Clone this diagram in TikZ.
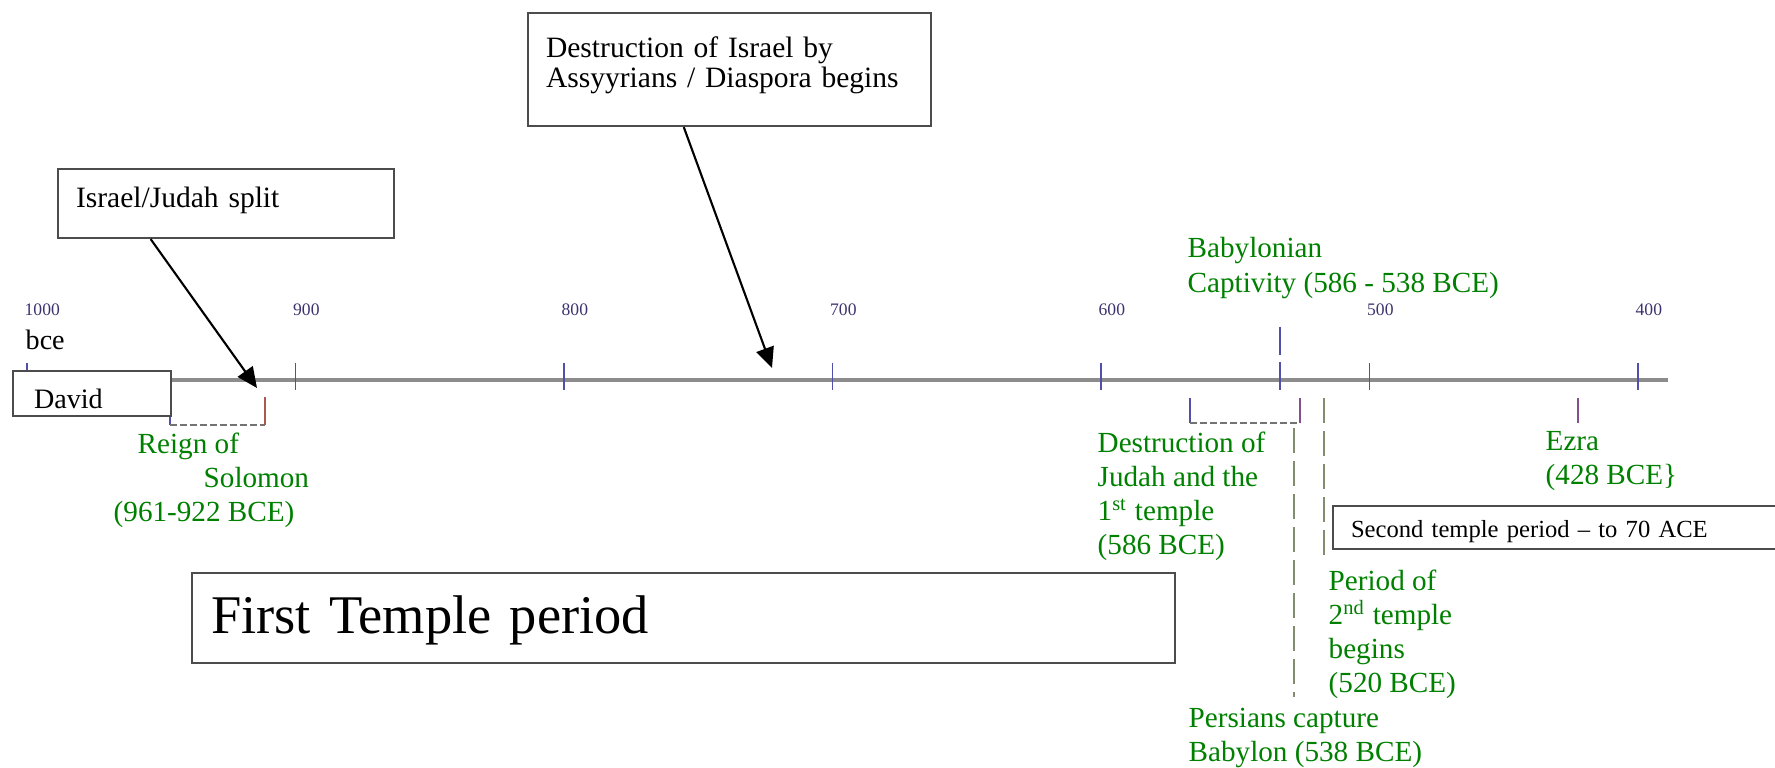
\documentclass[tikz,border=0pt]{standalone}
\usepackage{fontspec}
\setmainfont{Liberation Serif}
\usepackage{xcolor}
\usepackage{tikz}
\usetikzlibrary{arrows.meta,calc}
\definecolor{cNote}{RGB}{0,128,0}
\definecolor{cTick}{RGB}{80,80,170}
\definecolor{cYear}{RGB}{60,50,110}
\definecolor{cAxis}{RGB}{140,140,140}
\definecolor{cDash}{RGB}{130,140,110}
\definecolor{cEnd}{RGB}{170,90,80}
\definecolor{cPurp}{RGB}{130,80,140}
\newcommand{\notesize}{\fontsize{8.3}{9.7}\selectfont}
\newcommand{\boxsize}{\fontsize{8.4}{8.8}\selectfont}
\newcommand{\yrsize}{\fontsize{5}{6}\selectfont}
\tikzset{
  tbox/.style={draw=black!70, line width=0.6pt, fill=white, inner ysep=0pt,
               inner xsep=1.8mm, align=left, anchor=north west, font=\boxsize},
  note/.style={text=cNote, anchor=north west, inner sep=0pt, align=left,
               font=\notesize},
  yrlab/.style={text=cYear, anchor=west, inner sep=0pt, font=\yrsize},
  tickmark/.style={draw=cTick, line width=0.55pt},
  axis/.style={draw=cAxis, line width=0.95pt},
  arr/.style={-{Triangle[length=5.8pt,width=5.2pt]}, line width=0.6pt},
  dashv/.style={draw=cDash, line width=0.5pt, dash pattern=on 2.5mm off 0.8mm},
  bracketbase/.style={draw=black!55, line width=0.45pt, dash pattern=on 0.7mm off 0.3mm},
}

\begin{document}
\begin{tikzpicture}[x=0.1mm,y=-0.1mm]
  \clip (0,0) rectangle (1775,768);

  % time line
  \coordinate (t0) at (27,380);
  \coordinate (t1) at (1668,380);
  \draw[axis] (t0) -- (t1);
  \foreach \yr in {1000,900,800,700,600,500,400}{
    \pgfmathsetmacro{\xx}{27+(1000-\yr)*2.685}
    \draw[tickmark] (\xx,363) -- (\xx,390);
    \node[yrlab] (lab\yr) at (\xx-3,310) {\yr};
  }
  \node[inner sep=0pt, anchor=west, font=\fontsize{8}{9}\selectfont] (bce) at (25,340) {bce};

  % marks on the line
  \draw[tickmark, dash pattern=on 2.8mm off 0.7mm] (1280,327) -- (1280,390);
  \draw[draw=cPurp, line width=0.5pt] (1578,398) -- (1578,423);
  \draw[draw=cTick, line width=0.5pt] (170,425) -- (170,397);
  \draw[bracketbase] (170,425) -- (265,425);
  \draw[draw=cEnd, line width=0.5pt] (265,425) -- (265,397);
  \draw[draw=cTick, line width=0.5pt] (1190,398) -- (1190,423);
  \draw[bracketbase] (1190,423) -- (1300,423);
  \draw[draw=cPurp, line width=0.5pt] (1300,423) -- (1300,398);
  \draw[dashv] (1294,428) -- (1294,697);
  \draw[dashv] (1324,398) -- (1324,560);

  % boxes
  \node[tbox, inner xsep=2.1mm, text width=11.6mm, text height=3.7mm, text depth=0.8mm,
        font=\fontsize{8}{9}\selectfont] (david) at (12,370) {David};
  \node[tbox, text width=30mm, text height=3.8mm, text depth=3.1mm] (split) at (57,168) {Israel/Judah split};
  \node[tbox, text width=36.7mm, text height=4.4mm, text depth=6.9mm] (assyria) at (527,12)
    {Destruction of Israel by\\Assyyrians / Diaspora begins};
  \node[tbox, inner xsep=1.9mm, text width=94.5mm, text height=6mm, text depth=3mm,
        font=\fontsize{15.5}{17}\selectfont] (first) at (191,572) {First Temple period};
  \node[tbox, text width=43.2mm, text height=3.1mm, text depth=1.2mm,
        font=\fontsize{7}{8}\selectfont] (second) at (1332,505) {Second temple period -- to 70 ACE};

  % arrows
  \coordinate (splittip) at (257,388);
  \coordinate (assyriatip) at (772,368);
  \draw[arr] ($(split.south west)!0.277!(split.south east)$) -- (splittip);
  \draw[arr] ($(assyria.south west)!0.387!(assyria.south east)$) -- (assyriatip);

  % notes
  \node[note] (solomon) at (113,432) {\hspace*{2.4mm}Reign of\\\hspace*{9mm}Solomon\\(961-922 BCE)};
  \node[note] (babylon) at (1187,237) {Babylonian\\Captivity (586 - 538 BCE)};
  \node[note] (judah) at (1097,431) {Destruction of\\Judah and the\\1\textsuperscript{st} temple\\(586 BCE)};
  \node[note] (ezra) at (1545,431) {Ezra\\(428 BCE\}};
  \node[note] (period) at (1328,569) {Period of\\2\textsuperscript{nd} temple\\begins\\(520 BCE)};
  \node[note] (persia) at (1188,707) {Persians capture\\Babylon (538 BCE)};
\end{tikzpicture}
\end{document}
